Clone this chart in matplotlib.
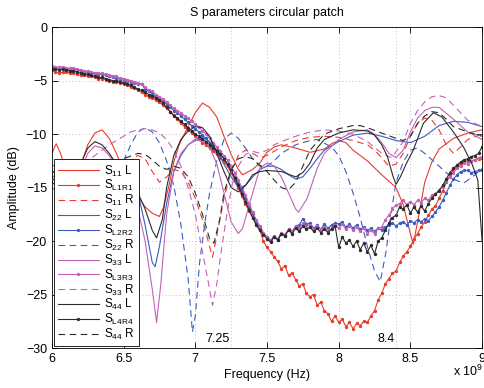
import numpy as np
import matplotlib
matplotlib.use('Agg')
import matplotlib.pyplot as plt

plt.rcParams['font.family'] = ['Liberation Sans', 'DejaVu Sans']
plt.rcParams['mathtext.fontset'] = 'custom'
plt.rcParams['mathtext.rm'] = 'Liberation Sans'

# ---------------- measured (noisy) series, GHz grid ----------------
freq_meas = np.linspace(6.0, 9.0, 121)

s_l1r1 = [-4.0, -4.2, -4.3, -4.2, -4.2, -4.3, -4.3, -4.4, -4.5, -4.5,
          -4.6, -4.6, -4.7, -4.8, -4.8, -4.9, -5.0, -5.1, -5.1, -5.2,
          -5.3, -5.4, -5.6, -5.7, -5.9, -6.1, -6.3, -6.5, -6.6, -6.8,
          -7.0, -7.3, -7.6, -7.9, -8.2, -8.6, -9.0, -9.3, -9.6, -9.9,
          -10.2, -10.5, -10.8, -11.0, -11.3, -11.6, -11.9, -12.2, -12.6, -13.0,
          -13.6, -14.3, -15.0, -15.8, -16.5, -17.2, -17.8, -18.4, -19.0, -20.0,
          -20.6, -21.0, -21.5, -21.9, -22.6, -22.3, -23.2, -23.0, -23.6, -24.2,
          -24.0, -24.9, -25.2, -25.0, -26.0, -25.7, -26.5, -26.8, -27.5, -27.0,
          -27.6, -27.3, -28.0, -27.6, -28.2, -27.7, -27.9, -27.5, -27.6, -27.0,
          -26.5, -25.5, -24.9, -24.0, -23.5, -23.0, -22.8, -22.0, -21.4, -21.0,
          -20.5, -19.8, -19.3, -18.7, -18.2, -17.6, -17.0, -16.7, -16.0, -15.3,
          -14.5, -13.9, -13.4, -13.0, -12.8, -12.6, -12.5, -12.5, -12.4, -12.3,
          -12.2]

s_l2r2 = [-3.7, -3.8, -3.85, -3.8, -3.9, -3.95, -3.9, -4.0, -4.1, -4.2,
          -4.2, -4.3, -4.35, -4.4, -4.4, -4.5, -4.6, -4.7, -4.75, -4.9,
          -4.95, -5.05, -5.15, -5.25, -5.35, -5.3, -5.8, -6.0, -6.2, -6.5,
          -6.7, -6.9, -7.2, -7.5, -7.8, -8.0, -8.3, -8.6, -8.9, -9.2,
          -9.5, -9.8, -10.1, -10.4, -10.8, -11.1, -11.5, -11.9, -12.3, -12.8,
          -13.4, -14.0, -14.6, -15.3, -16.0, -16.8, -17.5, -18.2, -18.8, -19.3,
          -19.6, -20.0, -19.6, -19.9, -19.3, -19.5, -18.9, -19.2, -18.6, -18.5,
          -17.9, -18.4, -18.3, -18.8, -18.5, -18.9, -18.4, -18.8, -18.5, -18.3,
          -18.4, -18.2, -18.7, -18.4, -18.8, -18.5, -18.9, -18.7, -19.0, -18.8,
          -19.1, -18.8, -19.0, -18.7, -18.5, -18.3, -18.6, -18.3, -18.2, -18.5,
          -18.1, -18.3, -18.0, -18.2, -17.9, -18.1, -17.7, -17.3, -16.8, -16.2,
          -15.5, -14.8, -14.2, -13.8, -13.5, -13.4, -13.4, -13.6, -13.5, -13.4,
          -13.4]

s_l3r3 = [-3.6, -3.7, -3.75, -3.7, -3.8, -3.85, -3.8, -3.9, -4.0, -4.1,
          -4.1, -4.2, -4.25, -4.3, -4.3, -4.4, -4.5, -4.55, -4.6, -4.75,
          -4.8, -4.9, -5.0, -5.1, -5.2, -5.35, -5.6, -5.9, -6.0, -6.3,
          -6.5, -6.7, -7.0, -7.3, -7.6, -7.8, -8.0, -8.3, -8.5, -8.8,
          -9.1, -9.3, -9.7, -10.0, -10.4, -10.8, -11.2, -11.6, -12.0, -12.4,
          -13.0, -13.6, -14.3, -15.0, -15.7, -16.5, -17.3, -18.0, -18.6, -19.2,
          -19.6, -19.9, -19.5, -19.8, -19.2, -19.4, -18.9, -19.1, -18.6, -18.8,
          -18.3, -18.6, -18.5, -18.9, -18.6, -18.9, -18.7, -19.0, -18.8, -18.5,
          -18.8, -18.4, -18.9, -18.6, -19.0, -18.7, -19.1, -18.8, -19.3, -19.0,
          -19.3, -18.8, -18.7, -18.0, -17.6, -17.0, -16.6, -16.5, -16.2, -16.6,
          -16.3, -16.6, -16.2, -16.4, -16.0, -16.2, -15.7, -15.6, -15.2, -14.9,
          -14.4, -14.0, -13.6, -13.2, -13.0, -12.7, -12.8, -12.5, -12.4, -12.2,
          -12.1]

s_l4r4 = [-3.9, -3.95, -4.0, -3.95, -4.0, -4.1, -4.1, -4.2, -4.3, -4.4,
          -4.4, -4.5, -4.6, -4.7, -4.7, -4.8, -4.9, -5.0, -5.0, -5.1,
          -5.2, -5.3, -5.4, -5.6, -5.8, -5.9, -6.1, -6.3, -6.4, -6.6,
          -6.8, -7.1, -7.5, -7.9, -8.3, -8.5, -8.8, -9.1, -9.4, -9.7,
          -10.0, -10.2, -10.5, -10.7, -11.0, -11.3, -11.6, -11.9, -12.3, -12.8,
          -13.4, -14.1, -14.8, -15.6, -16.3, -17.1, -17.8, -18.5, -19.0, -19.4,
          -19.8, -20.1, -19.6, -19.9, -19.3, -19.5, -19.0, -19.3, -18.8, -19.1,
          -18.6, -18.9, -18.7, -19.1, -18.8, -19.2, -18.9, -19.2, -18.9, -18.6,
          -20.6, -19.6, -20.2, -19.9, -20.5, -20.0, -20.8, -20.2, -21.0, -20.4,
          -21.2, -20.0, -19.7, -19.0, -18.3, -17.8, -17.6, -16.8, -17.0, -16.6,
          -17.4, -16.8, -17.3, -16.7, -17.2, -16.5, -16.0, -15.6, -15.3, -14.8,
          -14.2, -13.6, -13.2, -12.9, -12.6, -12.4, -12.3, -12.1, -12.0, -11.8,
          -11.2]

# ---------------- simulated (smooth) series ----------------
s11L_f = [6.0, 6.03, 6.06, 6.1, 6.15, 6.2, 6.25, 6.3, 6.35, 6.4, 6.45, 6.5, 6.55, 6.6,
          6.65, 6.7, 6.75, 6.78, 6.82, 6.85, 6.89, 6.95, 7.0, 7.05, 7.1, 7.15, 7.2,
          7.25, 7.3, 7.33, 7.4, 7.45, 7.5, 7.55, 7.6, 7.7, 7.8, 7.9, 7.95, 8.0, 8.05,
          8.1, 8.2, 8.3, 8.4, 8.45, 8.5, 8.52, 8.56, 8.6, 8.65, 8.7, 8.8, 8.9, 9.0]
s11L_v = [-11.8, -10.9, -11.8, -13.5, -14.2, -13.0, -11.0, -9.9, -9.6, -10.4, -11.8,
          -13.5, -14.8, -15.8, -16.8, -17.4, -17.7, -16.8, -14.6, -12.6, -10.9, -9.3,
          -8.0, -7.1, -7.5, -8.4, -10.2, -11.9, -13.3, -13.8, -13.3, -12.7, -11.7,
          -11.2, -11.0, -11.3, -11.7, -11.4, -10.9, -10.6, -10.8, -11.5, -12.5, -13.8,
          -15.0, -16.6, -19.3, -20.3, -17.5, -14.5, -12.6, -11.4, -10.4, -9.9, -9.6]

s11R_f = [6.0, 6.1, 6.2, 6.3, 6.4, 6.5, 6.6, 6.65, 6.7, 6.75, 6.8, 6.85, 6.9, 6.95,
          7.0, 7.05, 7.1, 7.12, 7.15, 7.2, 7.25, 7.3, 7.35, 7.4, 7.45, 7.5, 7.55, 7.6,
          7.7, 7.8, 7.9, 8.0, 8.1, 8.2, 8.25, 8.3, 8.35, 8.4, 8.45, 8.5, 8.55, 8.6,
          8.65, 8.7, 8.75, 8.8, 8.85, 8.9, 9.0]
s11R_v = [-13.0, -12.5, -13.5, -14.5, -14.0, -12.8, -12.0, -12.3, -13.5, -14.5, -14.0,
          -13.3, -13.5, -14.5, -16.0, -18.0, -20.5, -21.5, -19.5, -16.0, -13.5, -12.0,
          -11.5, -11.8, -12.2, -12.0, -11.6, -11.2, -10.6, -10.3, -10.2, -10.3, -10.6,
          -11.0, -11.5, -12.2, -13.0, -12.8, -11.8, -10.2, -9.0, -8.5, -8.7, -9.6,
          -11.0, -11.8, -11.2, -10.5, -10.0]

s22L_f = [6.0, 6.1, 6.2, 6.3, 6.4, 6.47, 6.53, 6.6, 6.65, 6.7, 6.72, 6.75, 6.8, 6.85,
          6.9, 6.95, 7.0, 7.05, 7.1, 7.15, 7.2, 7.25, 7.3, 7.35, 7.4, 7.45, 7.5, 7.55,
          7.6, 7.65, 7.7, 7.75, 7.8, 7.85, 7.9, 8.0, 8.1, 8.2, 8.3, 8.4, 8.5, 8.6,
          8.7, 8.8, 8.9, 9.0]
s22L_v = [-14.0, -16.0, -15.0, -13.5, -12.8, -12.4, -12.8, -15.5, -18.5, -22.0, -22.4,
          -20.5, -16.5, -13.5, -12.0, -11.0, -10.5, -10.3, -10.7, -11.5, -12.8, -14.0,
          -15.0, -14.8, -14.0, -13.3, -13.0, -13.0, -13.3, -13.8, -14.2, -14.0, -13.2,
          -12.3, -11.5, -10.7, -10.1, -9.9, -10.2, -10.6, -10.8, -10.2, -9.2, -8.8,
          -8.9, -9.3]

s22R_f = [6.0, 6.1, 6.2, 6.3, 6.4, 6.5, 6.55, 6.6, 6.65, 6.7, 6.75, 6.8, 6.85, 6.9,
          6.95, 6.98, 7.0, 7.03, 7.07, 7.1, 7.15, 7.2, 7.25, 7.3, 7.35, 7.4, 7.45, 7.5,
          7.55, 7.6, 7.7, 7.8, 7.85, 7.95, 8.0, 8.05, 8.1, 8.15, 8.2, 8.25, 8.29, 8.33,
          8.37, 8.4, 8.45, 8.5, 8.55, 8.6, 8.7, 8.8, 8.87, 8.95, 9.0]
s22R_v = [-14.0, -13.5, -14.0, -14.0, -13.5, -12.5, -11.0, -9.8, -9.4, -9.8, -10.8,
          -12.5, -14.8, -18.5, -23.5, -28.5, -27.0, -22.0, -18.0, -15.5, -12.5, -10.5,
          -9.9, -10.4, -11.3, -12.3, -13.0, -13.0, -12.5, -11.8, -11.0, -10.6, -10.5,
          -11.2, -12.0, -13.5, -15.5, -17.8, -20.5, -22.8, -23.8, -21.0, -17.0, -14.5,
          -12.6, -11.5, -11.3, -11.8, -13.0, -14.2, -14.6, -13.8, -13.2]

s33L_f = [6.0, 6.1, 6.2, 6.25, 6.3, 6.35, 6.4, 6.45, 6.5, 6.55, 6.6, 6.65, 6.7, 6.73,
          6.76, 6.8, 6.85, 6.9, 6.95, 7.0, 7.05, 7.1, 7.15, 7.2, 7.25, 7.3, 7.33, 7.4,
          7.45, 7.5, 7.55, 7.6, 7.65, 7.7, 7.72, 7.78, 7.85, 7.9, 8.0, 8.1, 8.2, 8.25,
          8.3, 8.35, 8.4, 8.45, 8.5, 8.55, 8.6, 8.65, 8.7, 8.8, 8.9, 9.0]
s33L_v = [-15.0, -16.0, -13.5, -11.8, -11.1, -11.3, -12.0, -13.0, -14.3, -15.5, -17.0,
          -20.0, -24.5, -27.6, -24.0, -17.5, -13.5, -11.8, -11.0, -10.6, -10.6, -11.2,
          -12.8, -15.5, -18.2, -19.3, -18.8, -15.5, -13.2, -12.7, -13.0, -14.0, -15.5,
          -17.0, -17.3, -16.0, -13.2, -11.8, -10.5, -9.8, -9.6, -10.0, -10.8, -11.8,
          -12.2, -11.5, -9.8, -8.5, -7.8, -7.5, -7.5, -8.6, -9.8, -10.5]

s33R_f = [6.0, 6.1, 6.2, 6.3, 6.4, 6.5, 6.55, 6.6, 6.65, 6.7, 6.75, 6.8, 6.85, 6.9,
          6.95, 7.0, 7.05, 7.1, 7.12, 7.15, 7.18, 7.22, 7.26, 7.3, 7.35, 7.4, 7.45,
          7.5, 7.55, 7.6, 7.7, 7.8, 7.9, 8.0, 8.1, 8.2, 8.3, 8.37, 8.45, 8.5, 8.55,
          8.6, 8.65, 8.7, 8.75, 8.8, 8.9, 9.0]
s33R_v = [-13.5, -13.5, -13.0, -12.0, -11.0, -10.2, -9.8, -9.6, -9.5, -9.6, -9.9,
          -10.5, -11.5, -13.0, -15.0, -17.5, -21.0, -24.5, -26.0, -24.0, -21.0, -17.5,
          -14.5, -13.0, -11.9, -11.6, -11.8, -11.5, -11.0, -10.7, -10.2, -9.8, -9.6,
          -9.7, -10.0, -10.7, -11.8, -12.2, -10.7, -9.0, -7.8, -7.0, -6.5, -6.4, -6.6,
          -7.3, -8.7, -9.3]

s44L_f = [6.0, 6.1, 6.2, 6.25, 6.3, 6.35, 6.4, 6.45, 6.5, 6.55, 6.6, 6.65, 6.7, 6.73,
          6.77, 6.8, 6.85, 6.9, 6.95, 7.0, 7.05, 7.1, 7.15, 7.2, 7.25, 7.3, 7.35, 7.4,
          7.45, 7.5, 7.6, 7.7, 7.75, 7.8, 7.85, 7.9, 8.0, 8.1, 8.2, 8.25, 8.3, 8.34,
          8.38, 8.4, 8.43, 8.47, 8.52, 8.59, 8.66, 8.72, 8.8, 8.87, 8.93, 8.97, 9.0]
s44L_v = [-14.5, -15.5, -12.8, -11.3, -10.7, -11.0, -11.8, -12.8, -13.8, -14.5, -15.5,
          -17.0, -19.0, -19.7, -18.0, -15.0, -12.0, -10.5, -9.7, -9.3, -9.4, -10.2,
          -11.8, -13.5, -15.0, -15.4, -14.8, -13.8, -13.5, -13.4, -13.5, -14.0, -13.6,
          -12.7, -11.3, -10.5, -9.9, -9.6, -9.7, -10.1, -11.0, -12.1, -14.0, -14.7,
          -14.0, -12.8, -11.5, -9.0, -8.0, -8.4, -9.8, -11.2, -12.8, -14.3, -20.0]

s44R_f = [6.0, 6.1, 6.2, 6.3, 6.4, 6.5, 6.6, 6.65, 6.7, 6.75, 6.8, 6.85, 6.9, 6.95,
          7.0, 7.05, 7.1, 7.13, 7.17, 7.2, 7.25, 7.3, 7.35, 7.4, 7.45, 7.5, 7.55, 7.6,
          7.65, 7.7, 7.75, 7.8, 7.9, 8.0, 8.1, 8.15, 8.2, 8.3, 8.4, 8.45, 8.5, 8.55,
          8.6, 8.65, 8.7, 8.75, 8.8, 8.9, 9.0]
s44R_v = [-13.5, -14.0, -14.0, -13.5, -13.0, -12.3, -11.8, -11.9, -12.4, -13.0, -13.3,
          -13.0, -13.2, -14.0, -15.5, -17.5, -19.8, -20.2, -18.0, -15.5, -13.3, -12.3,
          -12.1, -12.3, -12.9, -13.5, -14.3, -15.0, -15.2, -14.5, -13.0, -11.5, -10.0,
          -9.5, -9.2, -9.2, -9.4, -9.9, -10.4, -10.6, -10.2, -9.0, -8.3, -7.9, -8.0,
          -8.6, -9.3, -9.8, -10.2]

marked_freqs = [7.25, 8.4]
marked_labels = ['7.25', '8.4']

c_red = '#ec3a2a'
c_blue = '#3b5cc2'
c_mag = '#c262b6'
c_blk = '#2b2b2b'

fig = plt.figure(figsize=(4.85, 3.88), dpi=100)
ax = fig.add_axes([0.107, 0.103, 0.887, 0.827])

lw = 0.8
dash = (0, (6, 4))
ms = 2.8

ax.plot(s11L_f, s11L_v, color=c_red, lw=lw, label=r'$\mathregular{S_{11}}$ L')
ax.plot(freq_meas, s_l1r1, color=c_red, lw=lw, marker='.', ms=ms, label=r'$\mathregular{S_{L1R1}}$')
ax.plot(s11R_f, s11R_v, color=c_red, lw=lw, ls=dash, label=r'$\mathregular{S_{11}}$ R')
ax.plot(s22L_f, s22L_v, color=c_blue, lw=lw, label=r'$\mathregular{S_{22}}$ L')
ax.plot(freq_meas, s_l2r2, color=c_blue, lw=lw, marker='.', ms=ms, label=r'$\mathregular{S_{L2R2}}$')
ax.plot(s22R_f, s22R_v, color=c_blue, lw=lw, ls=dash, label=r'$\mathregular{S_{22}}$ R')
ax.plot(s33L_f, s33L_v, color=c_mag, lw=lw, label=r'$\mathregular{S_{33}}$ L')
ax.plot(freq_meas, s_l3r3, color=c_mag, lw=lw, marker='.', ms=ms, label=r'$\mathregular{S_{L3R3}}$')
ax.plot(s33R_f, s33R_v, color=c_mag, lw=lw, ls=dash, label=r'$\mathregular{S_{33}}$ R')
ax.plot(s44L_f, s44L_v, color=c_blk, lw=lw, label=r'$\mathregular{S_{44}}$ L')
ax.plot(freq_meas, s_l4r4, color=c_blk, lw=lw, marker='.', ms=ms, label=r'$\mathregular{S_{L4R4}}$')
ax.plot(s44R_f, s44R_v, color=c_blk, lw=lw, ls=dash, label=r'$\mathregular{S_{44}}$ R')

ax.set_xlim(6, 9)
ax.set_ylim(-30, 0)
ax.set_xticks([6, 6.5, 7, 7.5, 8, 8.5, 9])
ax.set_xticklabels(['6', '6.5', '7', '7.5', '8', '8.5', '9'])
ax.set_yticks([0, -5, -10, -15, -20, -25, -30])
ax.tick_params(direction='in', top=True, right=True, labelsize=9, length=4, width=0.6)
ax.grid(True, ls=(0, (1, 3)), color='#aaaaaa', lw=0.6)
for f, t in zip(marked_freqs, marked_labels):
    ax.axvline(f, ls=(0, (1, 3)), color='#aaaaaa', lw=0.6)
    ax.text(f - 0.01, -29.2, t, ha='right', va='center', fontsize=9)
for s in ax.spines.values():
    s.set_linewidth(0.6)

ax.set_title('S parameters circular patch', fontsize=9, pad=8)
ax.set_xlabel('Frequency (Hz)', fontsize=9, labelpad=3)
ax.set_ylabel('Amplitude (dB)', fontsize=9, labelpad=4)
fig.text(0.935, 0.022, r'x 10$^{9}$', fontsize=9, ha='left', va='bottom')

leg = ax.legend(loc='lower left', fontsize=8.5, handlelength=3.5, borderaxespad=0.15,
                labelspacing=-0.02, frameon=True, fancybox=False, framealpha=1,
                edgecolor='black', borderpad=0.35, handletextpad=0.4)
leg.get_frame().set_linewidth(0.6)

fig.savefig('out.png', dpi=100)
